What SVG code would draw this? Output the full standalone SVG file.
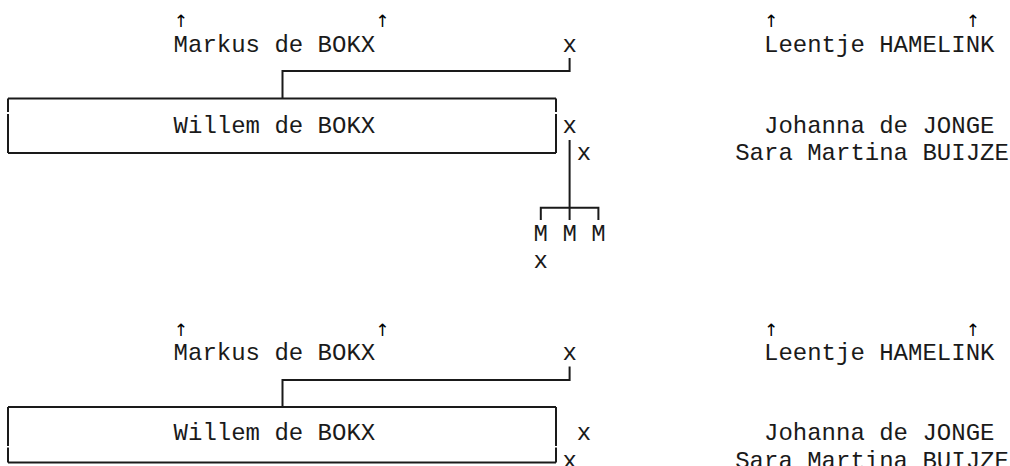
<svg xmlns="http://www.w3.org/2000/svg" width="1010" height="466" viewBox="0 0 1010 466">
<style>
text{font-family:"Liberation Mono","Courier New",monospace;font-size:24px;fill:#1a1a1a}
.c{text-anchor:middle}
.ar text{font-family:"DejaVu Sans",sans-serif;font-size:17px;fill:#000}
.ln{stroke:#1a1a1a;stroke-width:2;fill:none}
</style>
<rect width="1010" height="466" fill="#fff"/>
<g id="connectors">
  <path class="ln" d="M282.5,98.5 V71 H569.6 V58"/>
  <path class="ln" d="M569.6,140 V220 M540.8,220 V207.7 H598.4 V220"/>
  <path class="ln" d="M282.5,407 V380 H569.6 V366.5"/>
</g>
<g id="arrows1" class="ar">
  <text class="c" x="180.8" y="27">↑</text>
  <text class="c" x="382.4" y="27">↑</text>
  <text class="c" x="771.2" y="27">↑</text>
  <text class="c" x="972.8" y="27">↑</text>
</g>
<g id="markus1"><text x="173.6" y="51.5">Markus de BOKX</text></g>
<g id="unknown1a"><text class="c" x="569.6" y="51.5">x</text></g>
<g id="leentje1"><text x="764" y="51.5">Leentje HAMELINK</text></g>
<g id="willem1">
  <path class="ln" d="M8,98.5 H556 M8,153 H556 M8,98.5 V112 M8,114 V153 M556,98.5 V112 M556,114 V153"/>
  <text x="173.6" y="132.5">Willem de BOKX</text>
</g>
<g id="unknown1b"><text class="c" x="569.6" y="132.5">x</text></g>
<g id="johanna1"><text x="764" y="132.5">Johanna de JONGE</text></g>
<g id="unknown1c"><text class="c" x="584" y="159.5">x</text></g>
<g id="sara1"><text x="735.2" y="159.5">Sara Martina BUIJZE</text></g>
<g id="children1">
  <text class="c" x="540.8" y="240.5">M</text>
  <text class="c" x="569.6" y="240.5">M</text>
  <text class="c" x="598.4" y="240.5">M</text>
</g>
<g id="unknown1d"><text class="c" x="540.8" y="268">x</text></g>
<g id="arrows2" class="ar">
  <text class="c" x="180.8" y="335.5">↑</text>
  <text class="c" x="382.4" y="335.5">↑</text>
  <text class="c" x="771.2" y="335.5">↑</text>
  <text class="c" x="972.8" y="335.5">↑</text>
</g>
<g id="markus2"><text x="173.6" y="360">Markus de BOKX</text></g>
<g id="unknown2a"><text class="c" x="569.6" y="360">x</text></g>
<g id="leentje2"><text x="764" y="360">Leentje HAMELINK</text></g>
<g id="willem2">
  <path class="ln" d="M8,407 H556 M8,462.5 H556 M8,407 V446 M8,447.5 V462.5 M556,407 V446 M556,447.5 V462.5"/>
  <text x="173.6" y="440">Willem de BOKX</text>
</g>
<g id="unknown2b"><text class="c" x="584" y="440">x</text></g>
<g id="johanna2"><text x="764" y="440">Johanna de JONGE</text></g>
<g id="unknown2c"><text class="c" x="569.6" y="468">x</text></g>
<g id="sara2"><text x="735.2" y="468">Sara Martina BUIJZE</text></g>
</svg>
